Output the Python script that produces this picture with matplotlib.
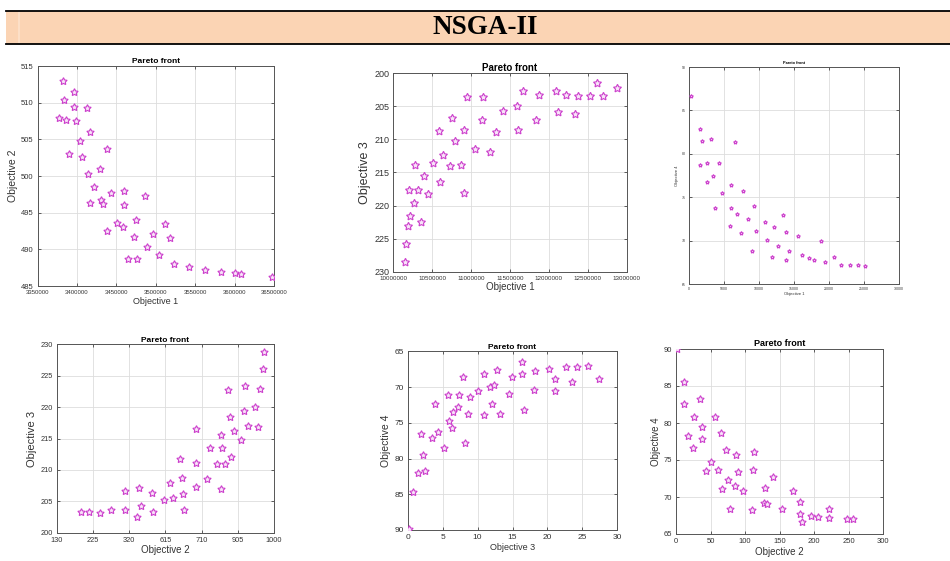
import numpy as np
import matplotlib
matplotlib.use("Agg")
import matplotlib.pyplot as plt
from matplotlib.patches import Rectangle
from matplotlib.lines import Line2D

# ---- datos ----
titulo = "NSGA-II"

# objetivo 1 vs objetivo 2
a_obj1 = [3382145, 3396717, 3383002, 3396717, 3412147, 3377430, 3385574, 3398432, 3416862,
          3403146, 3437863, 3390288, 3406575, 3429291, 3413861, 3421576, 3443006, 3459722,
          3486723, 3416004, 3430148, 3432720, 3460150, 3450721, 3437863, 3458436, 3474723,
          3471722, 3496153, 3512011, 3518011, 3488438, 3503867, 3464436, 3476437, 3523583,
          3541584, 3562157, 3582730, 3600302, 3607589, 3647877]
a_obj2 = [512.95, 511.45, 510.3, 509.45, 509.27, 507.86, 507.6, 507.55, 506.05, 504.8, 503.7,
          502.95, 502.6, 501.0, 500.27, 498.45, 497.64, 498.0, 497.3, 496.3, 496.68, 496.14,
          496.1, 493.64, 492.5, 493.1, 493.95, 491.7, 492.14, 493.4, 491.6, 490.36, 489.27,
          488.7, 488.64, 488.05, 487.6, 487.23, 486.95, 486.73, 486.6, 486.23]
a_xticklabels = ["3350000", "3400000", "3450000", "3500000", "3550000", "3600000", "36500000"]

# objetivo 1 vs objetivo 3 (eje y invertido)
b_obj1 = [10154286, 10167143, 10188571, 10214286, 10261429, 10197143, 10312857, 10355714,
          10398571, 10274286, 10441429, 10505714, 10600000, 10587143, 10634286, 10728571,
          10750000, 10788571, 10874286, 10912857, 10912857, 10951429, 11054286, 11135714,
          11148571, 11247143, 11315714, 11410000, 11590000, 11602857, 11667143, 11830000,
          11877143, 12087143, 12117143, 12224286, 12340000, 12374286, 12524286, 12618571,
          12695714, 12875714]
b_obj3 = [228.54, 225.76, 223.14, 221.53, 219.66, 217.7, 217.7, 222.44, 215.53, 213.87, 218.25,
          213.51, 216.49, 208.72, 212.4, 213.97, 206.76, 210.18, 213.87, 208.62, 218.05, 203.58,
          211.45, 207.0, 203.58, 211.95, 208.82, 205.65, 204.89, 208.62, 202.62, 207.06, 203.28,
          202.67, 205.85, 203.28, 206.15, 203.48, 203.48, 201.41, 203.48, 202.17]

# objetivo 1 vs objetivo 4 (figura pequena)
c_obj1 = [334, 1526, 1908, 3196, 6535, 1526, 2623, 4293, 3482, 2623, 5962, 4674, 7774, 3768,
          6057, 6820, 9300, 8442, 5819, 7393, 9635, 10875, 12210, 13498, 13880, 11113, 12782,
          9062, 14261, 11876, 13927, 15597, 16074, 17123, 17886, 18840, 19413, 20748, 21749,
          22942, 24086, 25136]
c_obj4 = [86.62, 82.9, 81.5, 81.7, 81.36, 78.75, 78.94, 78.94, 77.4, 76.8, 76.4, 75.45, 75.75,
          73.7, 73.8, 73.07, 73.95, 72.5, 71.7, 70.9, 71.1, 72.1, 71.6, 72.95, 70.95, 70.07,
          69.38, 68.8, 68.8, 68.15, 67.8, 70.5, 68.3, 68.0, 67.8, 69.9, 67.57, 68.1, 67.2, 67.2,
          67.15, 67.1]

# objetivo 2 vs objetivo 3
d_obj2 = [228.7, 258.1, 302.1, 347.5, 402.2, 402.2, 452.9, 458.3, 466.3, 510.3, 515.7, 561.0,
          583.7, 594.4, 625.1, 630.4, 635.7, 641.1, 686.4, 689.1, 689.1, 733.2, 745.2, 770.5,
          787.9, 793.2, 787.9, 805.2, 817.2, 825.2, 829.2, 841.2, 869.3, 878.6, 885.3, 897.3,
          924.0, 937.3, 942.7, 956.0, 958.6]
d_obj3 = [203.29, 203.29, 203.19, 203.56, 203.66, 206.58, 202.44, 207.06, 204.3, 206.27, 203.35,
          205.15, 207.91, 205.47, 211.79, 208.66, 206.11, 203.61, 216.51, 211.15, 207.27, 208.5,
          213.49, 210.89, 215.56, 213.49, 207.0, 210.99, 222.73, 218.37, 212.1, 216.14, 214.76,
          219.33, 223.31, 217.05, 220.07, 216.78, 222.94, 226.07, 228.78]
d_xticklabels = ["130", "225", "320", "615", "710", "905", "1000"]

# objetivo 3 vs objetivo 4 (eje y invertido)
e_obj3 = [0.14, 0.76, 1.43, 1.96, 2.24, 2.53, 3.53, 3.96, 4.39, 5.25, 5.77, 5.91, 6.39, 6.49,
          7.2, 7.34, 7.92, 8.25, 8.63, 8.97, 10.06, 10.87, 10.92, 11.78, 12.02, 12.4, 12.83,
          13.21, 14.55, 14.97, 16.36, 16.4, 16.64, 18.03, 18.17, 20.27, 21.03, 21.08, 22.7,
          23.46, 24.23, 25.75, 27.33]
e_obj4 = [89.86, 84.64, 81.98, 76.57, 79.55, 81.79, 77.13, 72.42, 76.33, 78.57, 71.16, 74.7,
          75.73, 73.44, 72.79, 71.06, 68.59, 77.87, 73.77, 71.34, 70.5, 73.95, 68.12, 69.94,
          72.37, 69.76, 67.66, 73.81, 70.97, 68.64, 66.54, 68.22, 73.16, 70.41, 67.75, 67.43,
          70.55, 68.87, 67.15, 69.29, 67.15, 67.05, 68.82]

# objetivo 2 vs objetivo 4
f_obj2 = [0.96, 12.06, 12.06, 35.2, 26.0, 56.9, 38.1, 17.8, 37.1, 65.6, 24.6, 71.9, 86.3, 113.3,
          50.2, 42.9, 60.3, 89.2, 110.9, 75.2, 139.9, 85.8, 66.6, 96.9, 129.3, 77.7, 109.5,
          127.8, 132.2, 153.4, 169.3, 179.4, 179.9, 182.3, 195.3, 205.0, 220.9, 220.9, 247.4,
          256.6]
f_obj4 = [90.0, 85.54, 82.52, 83.29, 80.76, 80.81, 79.41, 78.29, 77.88, 78.6, 76.58, 76.35,
          75.63, 76.12, 74.77, 73.51, 73.69, 73.38, 73.6, 72.3, 72.75, 71.53, 71.03, 70.8, 71.17,
          68.38, 68.24, 69.19, 69.1, 68.38, 70.85, 69.32, 67.75, 66.62, 67.43, 67.34, 68.33,
          67.2, 67.07, 67.07]

MAGENTA = "#cc3fcc"
FAM = ["Liberation Sans Narrow", "Liberation Sans", "DejaVu Sans"]


def pareto(fig, rect, x, y, xlabel, ylabel, xlim, ylim, xticks, yticks,
           xticklabels=None, ms=5.5, xfs=6.0, yfs=6.0, tfs=6.0, lfs=6.5, ylfs=None,
           pad=3, fam=FAM):
    """Dibuja un frente de Pareto al estilo MATLAB"""
    ax = fig.add_axes(rect)
    ax.plot(x, y, linestyle="none", marker=(5, 1, 0), ms=ms, mfc="#f8e4f8",
            mec=MAGENTA, mew=0.8, zorder=3)
    ax.set_xlim(*xlim)
    ax.set_ylim(*ylim)
    ax.set_xticks(xticks)
    ax.set_yticks(yticks)
    if xticklabels is None:
        xticklabels = [str(int(v)) for v in xticks]
    ax.set_xticklabels(xticklabels, family=fam, fontsize=xfs, color="#333333")
    ax.set_yticklabels([str(int(v)) for v in yticks], family=fam, fontsize=yfs, color="#333333")
    ax.grid(True, color="#dddddd", linewidth=0.6)
    ax.set_axisbelow(True)
    ax.tick_params(direction="in", length=2.5, width=0.6, top=True, right=True,
                   pad=pad, colors="#444444", labelcolor="#333333")
    for s in ax.spines.values():
        s.set_color("#555555")
        s.set_linewidth(0.7)
    ax.set_title("Pareto front", family=fam, fontsize=tfs, fontweight="bold", pad=2)
    ax.set_xlabel(xlabel, family=["Liberation Sans", "DejaVu Sans"], fontsize=lfs,
                  color="#333333", labelpad=1)
    ax.set_ylabel(ylabel, family=["Liberation Sans", "DejaVu Sans"],
                  fontsize=ylfs if ylfs else lfs, color="#333333", labelpad=2)
    return ax


W, H = 950, 561
fig = plt.figure(figsize=(W / 100, H / 100), dpi=100)


def caja(l, r, t, b):
    return [l / W, (H - b) / H, (r - l) / W, (b - t) / H]


# banda del encabezado
fig.patches.append(Rectangle((6 / W, (H - 44.3) / H), (W - 6) / W, 33.6 / H,
                             transform=fig.transFigure, facecolor="#fbd4b4",
                             edgecolor="none", zorder=0))
fig.lines.append(Line2D([19 / W, 19 / W], [(H - 44) / H, (H - 11) / H],
                        transform=fig.transFigure, color="#fde2cc", lw=1.2))
for yy in [10.7, 44.3]:
    fig.lines.append(Line2D([6 / W, 1], [(H - yy) / H, (H - yy) / H],
                            transform=fig.transFigure, color="black", lw=1.3))
fig.text(485 / W, (H - 27.5) / H, titulo, ha="center", va="center",
         family=["Liberation Serif", "DejaVu Serif"], fontweight="bold", fontsize=19.5)

pareto(fig, caja(37.7, 274, 66, 286), a_obj1, a_obj2, "Objective 1", "Objective 2",
       (3350000, 3650000), (485, 515), np.arange(3350000, 3650001, 50000),
       np.arange(485, 516, 5), xticklabels=a_xticklabels,
       ms=5.5, xfs=4.3, yfs=5.5, lfs=6.5, ylfs=7.5)

pareto(fig, caja(393.3, 626.7, 73.3, 271.7), b_obj1, b_obj3, "Objective 1", "Objective 3",
       (10000000, 13000000), (230, 200), np.arange(10000000, 13000001, 500000),
       np.arange(200, 231, 5), ms=6, xfs=4.5, yfs=6.5, tfs=7, lfs=7, ylfs=9)

pareto(fig, caja(689, 899, 67, 284), c_obj1, c_obj4, "Objective 1", "Objective 4",
       (0, 30000), (65, 90), np.arange(0, 30001, 5000), np.arange(65, 91, 5),
       ms=2.8, xfs=2.5, yfs=2.5, tfs=2.8, lfs=3, ylfs=3, pad=2)

pareto(fig, caja(56.7, 274, 344.3, 532.7), d_obj2, d_obj3, "Objective 2", "Objective 3",
       (130, 1000), (200, 230), np.linspace(130, 1000, 7), np.arange(200, 231, 5),
       xticklabels=d_xticklabels, ms=5.5, xfs=5.3, yfs=5.3, lfs=7, ylfs=8)

pareto(fig, caja(407.7, 617.3, 351.3, 530), e_obj3, e_obj4, "Objective 3", "Objective 4",
       (0, 30), (90, 65), np.arange(0, 31, 5), np.arange(65, 91, 5),
       ms=5.5, xfs=6, yfs=6, lfs=6.5, ylfs=7.5)

pareto(fig, caja(676, 883.3, 349, 534), f_obj2, f_obj4, "Objective 2", "Objective 4",
       (0, 300), (65, 90), np.arange(0, 301, 50), np.arange(65, 91, 5),
       ms=5.5, xfs=5.5, yfs=5.5, tfs=6.5, lfs=7, ylfs=7,
       fam=["Liberation Sans", "DejaVu Sans"])

fig.savefig("out.png", dpi=100)
